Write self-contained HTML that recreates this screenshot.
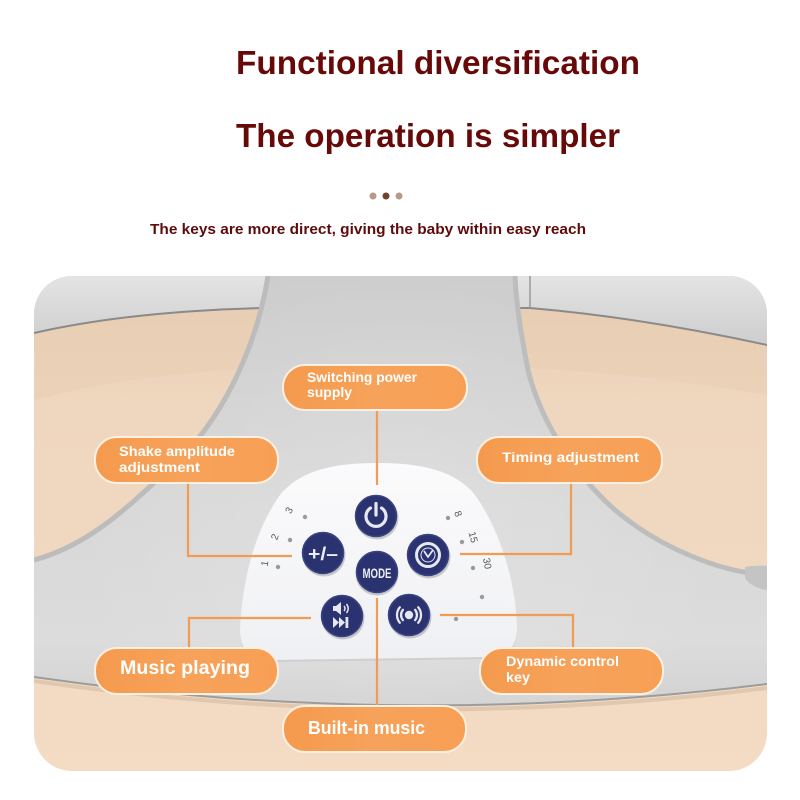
<!DOCTYPE html>
<html><head><meta charset="utf-8"><style>
html,body{margin:0;padding:0;background:#fff;}
svg{display:block;}
text{font-family:"Liberation Sans",Arial,sans-serif;font-weight:bold;}
</style></head><body>
<svg width="800" height="800" viewBox="0 0 800 800" xmlns="http://www.w3.org/2000/svg">
<defs>
  <clipPath id="panel"><rect x="34" y="276" width="733" height="495" rx="38" ry="38"/></clipPath>
  <linearGradient id="peach" x1="0" y1="0" x2="0" y2="1">
    <stop offset="0" stop-color="#e6ccb2"/>
    <stop offset="0.25" stop-color="#efd6be"/>
    <stop offset="1" stop-color="#f3dbc4"/>
  </linearGradient>
  <linearGradient id="rim" x1="0" y1="0" x2="0" y2="1">
    <stop offset="0" stop-color="#e4e4e4"/>
    <stop offset="1" stop-color="#cdcdcd"/>
  </linearGradient>
  <linearGradient id="body" x1="0" y1="0" x2="0" y2="1">
    <stop offset="0" stop-color="#cbcbcb"/>
    <stop offset="0.55" stop-color="#d8d8d8"/>
    <stop offset="0.85" stop-color="#dcdcdc"/>
    <stop offset="1" stop-color="#d2d2d2"/>
  </linearGradient>
  <radialGradient id="bodyhl" cx="400" cy="520" r="330" gradientUnits="userSpaceOnUse">
    <stop offset="0" stop-color="#ffffff" stop-opacity="0.18"/>
    <stop offset="1" stop-color="#ffffff" stop-opacity="0"/>
  </radialGradient>
  <linearGradient id="white" x1="0" y1="0" x2="0" y2="1">
    <stop offset="0" stop-color="#fbfbfc"/>
    <stop offset="1" stop-color="#eff0f3"/>
  </linearGradient>
  <linearGradient id="orange" x1="0" y1="0" x2="1" y2="0">
    <stop offset="0" stop-color="#f49a4e"/>
    <stop offset="0.5" stop-color="#f7a25a"/>
    <stop offset="1" stop-color="#f79f55"/>
  </linearGradient>
</defs>

<rect x="0" y="0" width="800" height="800" fill="#ffffff"/>

<!-- Header -->
<text x="236" y="74" font-size="33" fill="#670909" textLength="404" lengthAdjust="spacingAndGlyphs">Functional diversification</text>
<text x="236" y="147" font-size="33" fill="#670909" textLength="384" lengthAdjust="spacingAndGlyphs">The operation is simpler</text>
<circle cx="373" cy="196" r="3.5" fill="#b49a8a"/>
<circle cx="386" cy="196" r="3.5" fill="#6e4330"/>
<circle cx="399" cy="196" r="3.5" fill="#b49a8a"/>
<text x="150" y="234" font-size="14.5" fill="#5e0b0b" textLength="436" lengthAdjust="spacingAndGlyphs">The keys are more direct, giving the baby within easy reach</text>

<!-- Photo panel -->
<g clip-path="url(#panel)">
  <rect x="34" y="276" width="733" height="495" fill="url(#peach)"/>
  <!-- shelf band -->
  <path d="M34 333 C100 318 180 310 263 308 L530 308 C600 314 680 326 767 345 L767 395 C680 380 600 372 530 368 L263 368 C180 372 100 382 34 400 Z" fill="#e8cdb2" opacity="0.55"/>
  <!-- top rim -->
  <path d="M34 276 H767 V345 C680 326 600 314 530 308 L263 308 C180 310 100 318 34 333 Z" fill="url(#rim)"/>
  <path d="M34 333 C100 318 180 310 263 308 L530 308 C600 314 680 326 767 345" fill="none" stroke="#8a8a8a" stroke-width="2"/>
  <line x1="530" y1="276" x2="530" y2="308" stroke="#9a9a9a" stroke-width="1.5"/>

  <!-- grey body -->
  <path id="bodyp" d="M268 276 C258 340 225 420 170 468 C130 505 90 545 34 560 L34 677 Q400 730 767 684 L767 575 C720 572 660 548 615 510 C575 475 540 420 528 370 C520 330 516 300 515 276 Z" fill="url(#body)"/>
  <path d="M268 276 C258 340 225 420 170 468 C130 505 90 545 34 560 L34 677 Q400 730 767 684 L767 575 C720 572 660 548 615 510 C575 475 540 420 528 370 C520 330 516 300 515 276 Z" fill="url(#bodyhl)"/>
  <!-- cutout edge shading -->
  <path d="M268 276 C258 340 225 420 170 468 C130 505 90 545 34 560" fill="none" stroke="#bcbcbc" stroke-width="5"/>
  <path d="M767 575 C720 572 660 548 615 510 C575 475 540 420 528 370 C520 330 516 300 515 276" fill="none" stroke="#bdbdbd" stroke-width="5"/>
  <!-- right knob -->
  <path d="M745 567 C755 565 767 566 767 566 L767 590 C758 589 748 584 745 578 Z" fill="#c4c4c4"/>
  <!-- bottom edge -->
  <path d="M34 677 Q400 730 767 684" fill="none" stroke="#9c9c9c" stroke-width="2"/>
  <path d="M34 681 Q400 734 767 688" fill="none" stroke="#d9c0a8" stroke-width="4" opacity="0.7"/>

  <!-- white control panel -->
  <path d="M377 463 C420 463 455 470 475 495 C500 530 515 580 517 625 Q518 656 490 657 L270 660 Q240 660 240 630 C242 580 255 530 280 495 C300 470 335 463 377 463 Z" fill="#c6c6c6" transform="translate(0,2)" opacity="0.6"/>
  <path d="M377 463 C420 463 455 470 475 495 C500 530 515 580 517 625 Q518 656 490 657 L270 660 Q240 660 240 630 C242 580 255 530 280 495 C300 470 335 463 377 463 Z" fill="url(#white)"/>

  <!-- scale numbers and dots -->
  <g fill="#5a5a5a" font-size="10" font-weight="normal">
    <text x="0" y="0" transform="translate(292,512) rotate(-60)" text-anchor="middle" style="font-weight:normal">3</text>
    <text x="0" y="0" transform="translate(278,538) rotate(-70)" text-anchor="middle" style="font-weight:normal">2</text>
    <text x="0" y="0" transform="translate(268,564) rotate(-80)" text-anchor="middle" style="font-weight:normal">1</text>
    <text x="0" y="0" transform="translate(455,515) rotate(70)" text-anchor="middle" style="font-weight:normal">8</text>
    <text x="0" y="0" transform="translate(470,538) rotate(75)" text-anchor="middle" style="font-weight:normal">15</text>
    <text x="0" y="0" transform="translate(484,564) rotate(80)" text-anchor="middle" style="font-weight:normal">30</text>
  </g>
  <g fill="#9a9a9a">
    <circle cx="305" cy="517" r="2.2"/>
    <circle cx="290" cy="540" r="2.2"/>
    <circle cx="278" cy="567" r="2.2"/>
    <circle cx="448" cy="518" r="2.2"/>
    <circle cx="462" cy="542" r="2.2"/>
    <circle cx="473" cy="568" r="2.2"/>
    <circle cx="482" cy="597" r="2.2"/>
    <circle cx="456" cy="619" r="2.2"/>
  </g>

  <!-- buttons -->
  <g>
    <g fill="#000" opacity="0.18">
      <circle cx="377" cy="518" r="21.5"/>
      <circle cx="324" cy="555" r="21.5"/>
      <circle cx="377" cy="574" r="21.5"/>
      <circle cx="429" cy="557" r="21.5"/>
      <circle cx="343" cy="618" r="21.5"/>
      <circle cx="410" cy="617" r="21.5"/>
    </g>
    <g fill="#2a3270" stroke="#3b4483" stroke-width="1.5">
      <circle cx="376" cy="516" r="20.5"/>
      <circle cx="323" cy="553" r="20.5"/>
      <circle cx="377" cy="572" r="20.5"/>
      <circle cx="428" cy="555" r="20.5"/>
      <circle cx="342" cy="616" r="20.5"/>
      <circle cx="409" cy="615" r="20.5"/>
    </g>
  </g>
  <!-- power icon -->
  <path d="M381.5 508 A10 10 0 1 1 370.5 508" fill="none" stroke="#e6e7ef" stroke-width="3.2" stroke-linecap="round"/>
  <line x1="376" y1="503.5" x2="376" y2="515" stroke="#e6e7ef" stroke-width="3.2" stroke-linecap="round"/>
  <!-- +/- -->
  <text x="323" y="560" font-size="18" fill="#eceef5" text-anchor="middle" textLength="30" lengthAdjust="spacingAndGlyphs">+/–</text>
  <!-- MODE -->
  <text x="377" y="578" font-size="14" fill="#eceef5" text-anchor="middle" textLength="29" lengthAdjust="spacingAndGlyphs">MODE</text>
  <!-- timer -->
  <circle cx="428" cy="555" r="11.5" fill="none" stroke="#e6e7ef" stroke-width="3"/>
  <circle cx="428" cy="555" r="7" fill="none" stroke="#e6e7ef" stroke-width="1"/>
  <path d="M424 551 L428 557 L433 550" fill="none" stroke="#e6e7ef" stroke-width="1.8" stroke-linejoin="round"/>
  <!-- music icon -->
  <g fill="#e6e7ef">
    <rect x="333" y="606" width="3.5" height="5"/>
    <polygon points="336,606 341,602 341,615 336,611"/>
    <polygon points="333,617 333,628 339,622.5"/>
    <polygon points="339,617 339,628 345,622.5"/>
    <rect x="345.5" y="617" width="2.8" height="11"/>
  </g>
  <path d="M344 606 Q346 608.5 344 611 M346.5 604 Q350 608.5 346.5 613" fill="none" stroke="#e6e7ef" stroke-width="1.5"/>
  <!-- dynamic icon -->
  <circle cx="409" cy="615" r="4.2" fill="#e6e7ef"/>
  <g fill="none" stroke="#e6e7ef" stroke-width="2.3" stroke-linecap="round">
    <path d="M402.9 609.9 A8 8 0 0 0 402.9 620.1"/>
    <path d="M415.1 609.9 A8 8 0 0 1 415.1 620.1"/>
    <path d="M399.8 607.3 A12 12 0 0 0 399.8 622.7"/>
    <path d="M418.2 607.3 A12 12 0 0 1 418.2 622.7"/>
  </g>

  <!-- connectors -->
  <g fill="none" stroke="#f19c55" stroke-width="2.2">
    <path d="M377 410 V485"/>
    <path d="M188 483 V556 H292"/>
    <path d="M571 483 V554 H460"/>
    <path d="M189 648 V618 H311"/>
    <path d="M573 648 V615 H440"/>
    <path d="M377 598 V706"/>
  </g>

  <!-- pills -->
  <g fill="url(#orange)" stroke="#fdf0e0" stroke-width="2">
    <rect x="283" y="365" width="184" height="45" rx="22"/>
    <rect x="95" y="437" width="183" height="46" rx="22"/>
    <rect x="477" y="437" width="185" height="46" rx="22"/>
    <rect x="95" y="648" width="183" height="46" rx="22"/>
    <rect x="480" y="648" width="183" height="46" rx="22"/>
    <rect x="283" y="706" width="183" height="46" rx="22"/>
  </g>
  <g fill="#ffffff">
    <text x="307" y="382" font-size="13.5" textLength="110" lengthAdjust="spacingAndGlyphs">Switching power</text>
    <text x="307" y="397" font-size="13.5" textLength="45" lengthAdjust="spacingAndGlyphs">supply</text>
    <text x="119" y="456" font-size="14" textLength="116" lengthAdjust="spacingAndGlyphs">Shake amplitude</text>
    <text x="119" y="472" font-size="14" textLength="81" lengthAdjust="spacingAndGlyphs">adjustment</text>
    <text x="502" y="462" font-size="14" textLength="137" lengthAdjust="spacingAndGlyphs">Timing adjustment</text>
    <text x="120" y="674" font-size="19.5" textLength="130" lengthAdjust="spacingAndGlyphs">Music playing</text>
    <text x="506" y="666" font-size="14" textLength="113" lengthAdjust="spacingAndGlyphs">Dynamic control</text>
    <text x="506" y="682" font-size="14" textLength="24" lengthAdjust="spacingAndGlyphs">key</text>
    <text x="308" y="734" font-size="18.5" textLength="117" lengthAdjust="spacingAndGlyphs">Built-in music</text>
  </g>
</g>
</svg>
</body></html>
